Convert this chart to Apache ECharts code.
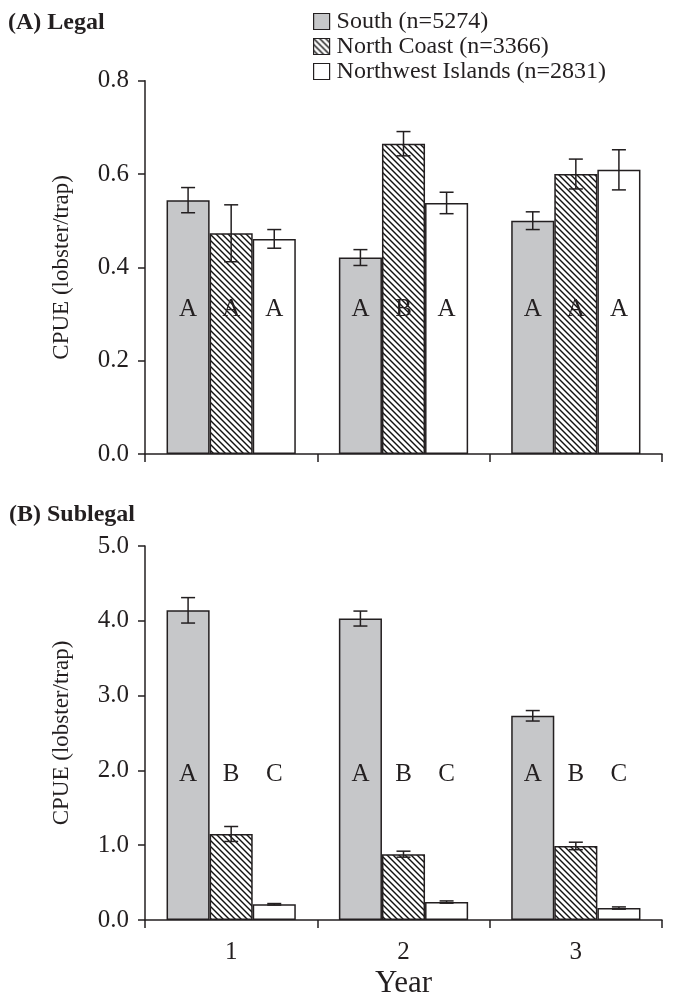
<!DOCTYPE html>
<html><head><meta charset="utf-8">
<script src="https://cdn.jsdelivr.net/npm/echarts@6/dist/echarts.min.js"></script>
<style>html,body{margin:0;padding:0;background:#fff}#c{width:679px;height:1000px}</style>
</head><body><div id="c"></div>
<script>
// ---- data ----
const years = ['1', '2', '3'];
const seriesNames = ['South (n=5274)', 'North Coast (n=3366)', 'Northwest Islands (n=2831)'];

const legalSouth = [0.544, 0.421, 0.500];
const legalSouthSE = [0.027, 0.017, 0.019];
const legalNorthCoast = [0.473, 0.665, 0.600];
const legalNorthCoastSE = [0.061, 0.026, 0.032];
const legalNorthwest = [0.461, 0.538, 0.609];
const legalNorthwestSE = [0.020, 0.023, 0.043];

const subSouth = [4.14, 4.03, 2.73];
const subSouthSE = [0.17, 0.10, 0.07];
const subNorthCoast = [1.15, 0.88, 0.99];
const subNorthCoastSE = [0.10, 0.04, 0.05];
const subNorthwest = [0.21, 0.24, 0.16];
const subNorthwestSE = [0.01, 0.015, 0.015];

const legalLetters = [['A', 'A', 'A'], ['A', 'B', 'A'], ['A', 'A', 'A']]; // per series
const subLetters = [['A', 'A', 'A'], ['B', 'B', 'B'], ['C', 'C', 'C']];

const legalTicks = ['0.0', '0.2', '0.4', '0.6', '0.8'];
const subTicks = ['0.0', '1.0', '2.0', '3.0', '4.0', '5.0'];

// ---- styles ----
const INK = '#231f20';
const GRAY = '#c6c7c9';
const SERIF = '"Liberation Serif", "DejaVu Serif", serif';
const letterLevel = [0.31, 1.95];

function makeHatch() {
  const s = 6;
  const cv = document.createElement('canvas');
  cv.width = s; cv.height = s;
  const ctx = cv.getContext('2d');
  ctx.fillStyle = '#fff';
  ctx.fillRect(0, 0, s, s);
  ctx.strokeStyle = '#111';
  ctx.lineWidth = 1.4;
  [-s, 0, s].forEach(function (o) {
    ctx.beginPath();
    ctx.moveTo(o - 1, -1);
    ctx.lineTo(o + s + 1, s + 1);
    ctx.stroke();
  });
  return { image: cv, repeat: 'repeat' };
}
const hatch = makeHatch();
const fills = [GRAY, hatch, '#ffffff'];

const panels = [
  { vals: [legalSouth, legalNorthCoast, legalNorthwest], se: [legalSouthSE, legalNorthCoastSE, legalNorthwestSE], letters: legalLetters },
  { vals: [subSouth, subNorthCoast, subNorthwest], se: [subSouthSE, subNorthCoastSE, subNorthwestSE], letters: subLetters }
];

const series = [];
panels.forEach(function (p, pi) {
  p.vals.forEach(function (arr, si) {
    series.push({
      type: 'bar', name: seriesNames[si], xAxisIndex: pi, yAxisIndex: pi,
      data: arr, barGap: '0%', barCategoryGap: '25%',
      itemStyle: { color: fills[si], borderColor: INK, borderWidth: 1.5 },
      emphasis: { disabled: true }, silent: true
    });
  });
  p.vals.forEach(function (arr, si) {
    series.push({
      type: 'custom', xAxisIndex: pi, yAxisIndex: pi, z: 5, silent: true,
      data: arr.map(function (v, i) { return [i, v, p.se[si][i]]; }),
      renderItem: function (params, api) {
        const ci = api.value(0), v = api.value(1), e = api.value(2);
        const catW = api.size([1, 0])[0];
        const bw = catW * 0.75 / 3;
        const x = api.coord([ci, v])[0] + (si - 1) * bw;
        const yHi = api.coord([ci, v + e])[1];
        const yLo = api.coord([ci, v - e])[1];
        const yL = api.coord([ci, letterLevel[pi]])[1];
        const cap = 7;
        const ls = { stroke: INK, lineWidth: 1.5 };
        return {
          type: 'group', children: [
            { type: 'line', shape: { x1: x, y1: yHi, x2: x, y2: yLo }, style: ls },
            { type: 'line', shape: { x1: x - cap, y1: yHi, x2: x + cap, y2: yHi }, style: ls },
            { type: 'line', shape: { x1: x - cap, y1: yLo, x2: x + cap, y2: yLo }, style: ls },
            { type: 'text', style: { text: p.letters[si][ci], x: x, y: yL, align: 'center', verticalAlign: 'middle', font: '25px ' + SERIF, fill: INK } }
          ]
        };
      }
    });
  });
});

function yAxisCfg(gi, ticks, max, interval) {
  return {
    type: 'value', gridIndex: gi, min: 0, max: max, interval: interval,
    name: 'CPUE (lobster/trap)', nameLocation: 'middle', nameGap: 72,
    nameTextStyle: { fontFamily: SERIF, fontSize: 23, color: INK },
    axisLine: { show: true, lineStyle: { color: INK, width: 1.5 } },
    axisTick: { show: true, length: 7, lineStyle: { color: INK, width: 1.5 } },
    splitLine: { show: false },
    axisLabel: {
      fontFamily: SERIF, fontSize: 25, color: INK, margin: 16,
      formatter: function (v) { return ticks[Math.round(v / interval)]; }
    }
  };
}
function xAxisCfg(gi, showLabels) {
  const cfg = {
    type: 'category', gridIndex: gi, data: years, boundaryGap: true,
    axisLine: { show: true, lineStyle: { color: INK, width: 1.5 } },
    axisTick: { show: true, length: 8, lineStyle: { color: INK, width: 1.5 } },
    axisLabel: { show: showLabels, fontFamily: SERIF, fontSize: 25, color: INK, margin: 20 },
    z: 10
  };
  if (showLabels) {
    cfg.name = 'Year'; cfg.nameLocation = 'middle'; cfg.nameGap = 48;
    cfg.nameTextStyle = { fontFamily: SERIF, fontSize: 31, color: INK };
  }
  return cfg;
}

const chart = echarts.init(document.getElementById('c'), null, { renderer: 'canvas' });
chart.setOption({
  backgroundColor: '#fff',
  animation: false,
  title: [
    { text: '(A) Legal', left: 8, top: 11, padding: 0, textStyle: { fontFamily: SERIF, fontSize: 24, fontWeight: 'bold', color: INK } },
    { text: '(B) Sublegal', left: 9, top: 503, padding: 0, textStyle: { fontFamily: SERIF, fontSize: 24, fontWeight: 'bold', color: INK } }
  ],
  legend: {
    data: seriesNames, orient: 'vertical', left: 313, top: 9, padding: 0,
    icon: 'rect', itemWidth: 16, itemHeight: 16, itemGap: 0,
    selectedMode: false,
    itemStyle: { borderColor: INK, borderWidth: 1.2 },
    textStyle: { fontFamily: SERIF, fontSize: 24, lineHeight: 25, color: INK, padding: [0, 0, 0, 2] }
  },
  grid: [
    { left: 145, right: 17, top: 80.7, height: 373.3 },
    { left: 145, right: 17, top: 546, height: 376.5 }
  ],
  xAxis: [xAxisCfg(0, false), xAxisCfg(1, true)],
  yAxis: [yAxisCfg(0, legalTicks, 0.8, 0.2), yAxisCfg(1, subTicks, 5, 1)],
  series: series
});
</script>
</body></html>
